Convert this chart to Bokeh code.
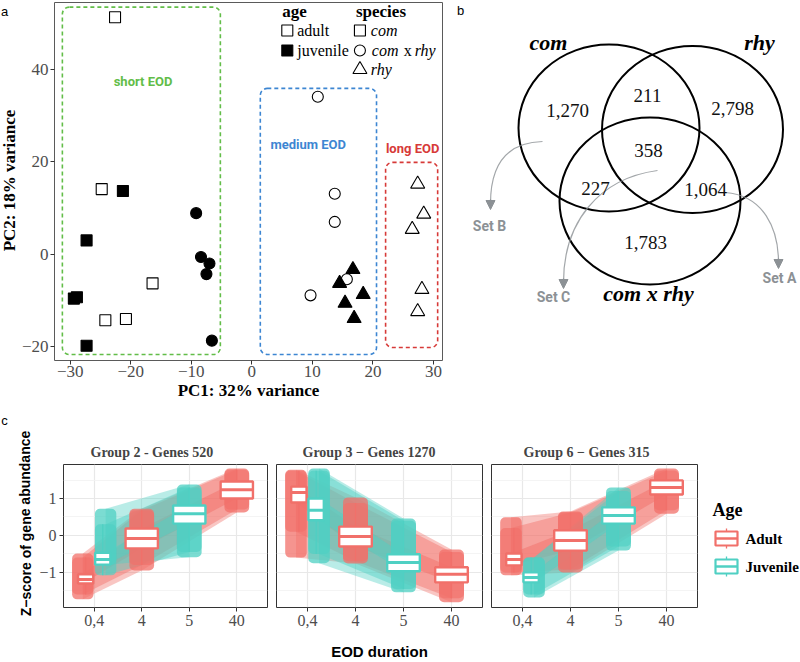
from bokeh.plotting import figure
from bokeh.layouts import row, column
from bokeh.models import Label, Range1d, FixedTicker, Arrow, NormalHead
from bokeh.embed import file_html
from bokeh.resources import INLINE

SERIF = "Liberation Serif"
SANS = "Liberation Sans"
ROBOTO = "Roboto"

# ------------------------------------------------------------------
# Panel a: PCA of samples
# ------------------------------------------------------------------
adult_com_x = [-22.6, -24.8, -16.4, -24.2, -20.8]
adult_com_y = [51.3, 14.1, -6.3, -14.3, -14.0]
juv_com_x = [-21.3, -27.3, -29.4, -28.9, -27.3]
juv_com_y = [13.7, 3.0, -9.6, -9.3, -19.8]
adult_hyb_x = [10.9, 13.7, 13.7, 15.7, 9.7]
adult_hyb_y = [34.1, 13.1, 7.0, -5.4, -8.9]
juv_hyb_x = [-9.2, -8.4, -7.0, -7.5, -6.6]
juv_hyb_y = [8.9, -0.6, -2.0, -4.3, -18.7]
adult_rhy_x = [27.4, 28.4, 26.5, 28.1, 27.4]
adult_rhy_y = [15.2, 8.7, 5.4, -7.6, -12.4]
juv_rhy_x = [16.7, 14.5, 18.4, 15.4, 16.9]
juv_rhy_y = [-3.3, -6.3, -8.7, -10.6, -13.9]

pc1_ticks = [-30, -20, -10, 0, 10, 20, 30]
pc2_ticks = [-20, 0, 20, 40]

eod_names = ["short EOD", "medium EOD", "long EOD"]
eod_left = [-31.3, 1.4, 22.1]
eod_right = [-5.2, 20.6, 30.7]
eod_top = [53.5, 35.9, 19.9]
eod_bottom = [-21.7, -21.7, -20.2]
eod_colors = ["#62bd48", "#3d86d2", "#d73a38"]

age_labels = ["adult", "juvenile"]
species_labels = ["com", "com x rhy", "rhy"]

# ------------------------------------------------------------------
# Panel b: Venn counts
# ------------------------------------------------------------------
venn_sets = ["com", "rhy", "com x rhy"]
venn_regions = ["com", "com & rhy", "rhy", "all", "com & hybrid", "rhy & hybrid", "hybrid"]
venn_counts = [1270, 211, 2798, 358, 227, 1064, 1783]
venn_set_names = ["Set B", "Set C", "Set A"]

# ------------------------------------------------------------------
# Panel c: z-scores by EOD duration (box statistics and point ranges)
# ------------------------------------------------------------------
group_titles = ["Group 2 - Genes 520", "Group 3 \u2212 Genes 1270", "Group 6 \u2212 Genes 315"]
eod_labels = ["0,4", "4", "5", "40"]
adult_eod = ["0,4", "4", "40"]
juv_eod = ["0,4", "5"]

adult_lo = [[-1.73, -0.95, 0.62], [-0.60, -0.76, -1.81], [-1.08, -1.00, 0.59]]
adult_wlo = [[-1.60, -0.80, 0.70], [0.10, -0.70, -1.70], [-1.00, -0.92, 0.68]]
adult_q1 = [[-1.30, -0.35, 1.00], [0.89, -0.30, -1.27], [-0.81, -0.41, 1.11]]
adult_med = [[-1.19, -0.08, 1.24], [1.16, -0.03, -1.05], [-0.65, -0.14, 1.30]]
adult_q3 = [[-1.05, 0.19, 1.46], [1.32, 0.24, -0.86], [-0.49, 0.14, 1.49]]
adult_whi = [[-0.60, 0.68, 1.78], [1.75, 0.88, -0.45], [0.20, 0.62, 1.76]]
adult_hi = [[-0.49, 0.72, 1.81], [1.78, 1.03, -0.38], [0.49, 0.65, 1.81]]

juv_lo = [[-0.80, -0.59], [-0.75, -1.54], [-1.68, -0.41]]
juv_wlo = [[-1.08, -0.45], [-0.50, -1.45], [-1.60, -0.30]]
juv_q1 = [[-0.79, 0.32], [0.41, -0.97], [-1.27, 0.32]]
juv_med = [[-0.65, 0.59], [0.68, -0.73], [-1.14, 0.54]]
juv_q3 = [[-0.47, 0.81], [1.00, -0.51], [-1.00, 0.76]]
juv_whi = [[0.30, 1.30], [1.75, 0.40], [-0.60, 1.20]]
juv_hi = [[0.72, 1.38], [1.81, 0.46], [-0.60, 1.30]]

RED = "#f1706a"
TEAL = "#4fd0c3"
GREY_TXT = "#4d4d4d"


def style_axis(ax, size):
    ax.axis_line_color = None
    ax.major_tick_line_color = "#333333"
    ax.major_tick_out = 4
    ax.major_tick_in = 0
    ax.minor_tick_line_color = None
    ax.major_label_text_font = SERIF
    ax.major_label_text_font_size = size
    ax.major_label_text_color = GREY_TXT


def label(p, x, y, text, size, font=SERIF, style="normal", color="black",
          align="center", angle=0.0):
    p.add_layout(Label(x=x, y=y, text=text, text_font=font, text_font_size=size,
                       text_font_style=style, text_color=color, text_align=align,
                       text_baseline="middle", angle=angle))


def blank(width, height, x0, x1, y0, y1):
    """A figure with no axes whose frame fills it, in page-pixel coordinates."""
    p = figure(width=width, height=height, x_range=Range1d(x0, x1), y_range=Range1d(y1, y0),
               output_backend="svg", toolbar_location=None, min_border=0,
               x_axis_location=None, y_axis_location=None, frame_align=False)
    p.grid.visible = False
    p.outline_line_color = None
    return p


# ---------------- panel a ----------------
AX0, AX1, AY0, AY1 = -32.6, 31.5, -23.0, 54.5
FA_LEFT = 52
fa_m = blank(18, 405, 0, 18, 0, 405)
label(fa_m, 4, 11, "a", "13px", font=SANS)
label(fa_m, 9, 180, "PC2: 18% variance", "17px", style="bold", angle=1.5708)

fa = figure(width=427, height=405, x_range=Range1d(AX0, AX1), y_range=Range1d(AY0, AY1),
            output_backend="svg", toolbar_location=None, frame_align=False,
            min_border_left=FA_LEFT - 18, min_border_right=3, min_border_top=2,
            min_border_bottom=45)
fa.grid.visible = False
fa.outline_line_color = "#5a5a5a"
fa.xaxis.ticker = FixedTicker(ticks=pc1_ticks)
fa.yaxis.ticker = FixedTicker(ticks=pc2_ticks)
fa.xaxis.major_label_overrides = {t: str(t).replace("-", "\u2212") for t in pc1_ticks}
fa.yaxis.major_label_overrides = {t: str(t).replace("-", "\u2212") for t in pc2_ticks}
for ax in (fa.xaxis[0], fa.yaxis[0]):
    style_axis(ax, "17px")
fa.xaxis.major_label_standoff = 1
fa.yaxis.major_label_standoff = 2
fa.xaxis.axis_label = "PC1: 32% variance"
fa.xaxis.axis_label_text_font = SERIF
fa.xaxis.axis_label_text_font_size = "17px"
fa.xaxis.axis_label_text_font_style = "bold"
fa.xaxis.axis_label_text_color = "black"
fa.xaxis.axis_label_standoff = 1


def a_pt(px, py):
    """Page pixel -> panel a data coordinates."""
    return (AX0 + (px - FA_LEFT) * (AX1 - AX0) / 390.0,
            AY0 + (360 - py) * (AY1 - AY0) / 358.0)


fa.quad(left=eod_left, right=eod_right, top=eod_top, bottom=eod_bottom,
        fill_alpha=0, line_color=eod_colors, line_dash="4 3", line_width=1.6,
        border_radius=7)
eod_label_pos = [(141, 81), (307, 144), (412, 148)]
for name, col, (px, py) in zip(eod_names, eod_colors, eod_label_pos):
    lx, ly = a_pt(px, py)
    label(fa, lx, ly, name, "13px", font=ROBOTO, style="bold", color=col)

mk = dict(line_color="black", line_width=1.1)
fa.scatter(adult_com_x, adult_com_y, marker="square", size=11, fill_alpha=0, **mk)
fa.scatter(juv_com_x, juv_com_y, marker="square", size=11, fill_color="black", **mk)
fa.scatter(adult_hyb_x, adult_hyb_y, marker="circle", size=11, fill_alpha=0, **mk)
fa.scatter(juv_hyb_x, juv_hyb_y, marker="circle", size=11, fill_color="black", **mk)
fa.scatter(adult_rhy_x, adult_rhy_y, marker="triangle", size=14, fill_alpha=0, **mk)
fa.scatter(juv_rhy_x, juv_rhy_y, marker="triangle", size=14, fill_color="black", **mk)

# legend block (top right, inside the frame)
tx, ty = a_pt(281, 11)
label(fa, tx, ty, "age", "17px", style="bold", align="left")
tx, ty = a_pt(355, 11)
label(fa, tx, ty, "species", "17px", style="bold", align="left")
key_rows = [30, 50, 69]
for i, lab in enumerate(age_labels):
    kx, ky = a_pt(286, key_rows[i])
    fa.scatter([kx], [ky], marker="square", size=11,
               fill_color="black" if i == 1 else None, **mk)
    lx, ly = a_pt(296, key_rows[i])
    label(fa, lx, ly, lab, "16px", align="left")
sp_markers = ["square", "circle", "triangle"]
sp_sizes = [11, 11, 14]
for i, lab in enumerate(species_labels):
    kx, ky = a_pt(359, key_rows[i])
    fa.scatter([kx], [ky], marker=sp_markers[i], size=sp_sizes[i], fill_alpha=0, **mk)
    if " x " in lab:
        a_, b_ = lab.split(" x ")
        for txt, px, st in ((a_, 371, "italic"), ("x", 403, "normal"), (b_, 414, "italic")):
            lx, ly = a_pt(px, key_rows[i])
            label(fa, lx, ly, txt, "16px", style=st, align="left")
    else:
        lx, ly = a_pt(370, key_rows[i])
        label(fa, lx, ly, lab, "16px", style="italic", align="left")

# ---------------- panel b ----------------
fb = blank(355, 405, 445, 800, 0, 405)
venn_cx = [608.5, 692.0, 649.5]
venn_cy = [127.5, 129.0, 200.5]
fb.ellipse(x=venn_cx, y=venn_cy, width=181, height=167, fill_alpha=0,
           line_color="black", line_width=2)
count_pos = [(567, 110), (647, 95), (732, 108), (648, 150), (595, 188), (705, 189), (645, 242)]
for n, (px, py) in zip(venn_counts, count_pos):
    label(fb, px, py, f"{n:,}", "19px", color="#111111")
set_title_pos = [(548, 42), (759, 42), (648, 293)]
for name, (px, py) in zip(venn_sets, set_title_pos):
    label(fb, px, py, name, "22px", style="bold italic")

ARROW = "#8c9195"
fb.bezier(x0=[542, 657, 725], y0=[141, 170, 192],
          x1=[490, 563, 778], y1=[203, 282, 262],
          cx0=[505, 598, 763], cy0=[142, 178, 195],
          cx1=[490, 563, 778], cy1=[165, 222, 228],
          line_color=ARROW, line_width=1.2, line_alpha=0.8)
for xs, ys, xe, ye in ((490, 199, 490, 209), (563, 278, 563, 288), (778, 258, 778, 268)):
    fb.add_layout(Arrow(x_start=xs, y_start=ys, x_end=xe, y_end=ye, line_color=ARROW,
                        line_width=1.2,
                        end=NormalHead(size=9, fill_color=ARROW, line_color=ARROW)))
set_pos = [(489, 225), (553, 296), (779, 277)]
for name, (px, py) in zip(venn_set_names, set_pos):
    label(fb, px, py, name, "14px", font=ROBOTO, style="bold", color="#8c9195")
label(fb, 460, 10, "b", "13px", font=SANS)

# ---------------- panel c ----------------
CX0, CX1, CY0, CY1 = 0.354, 4.646, -1.95, 1.92
FRAME_TOP, FRAME_BOT = 464, 607
DODGE_BOX = 0.18
DODGE_CLOUD = 0.24

cm = blank(36, 257, 0, 36, 405, 662)
label(cm, 4, 420, "c", "13px", font=SANS)
label(cm, 25, 523, "Z\u2212score of gene abundance", "14px", font=SANS, style="bold",
      angle=1.5708)


def positions(labels, shift):
    out = []
    for lab in labels:
        base = eod_labels.index(lab) + 1
        out.append(base + (shift if lab == "0,4" else 0.0))
    return out


def spans(xs, labels, narrow, wide):
    w = [narrow if lab == "0,4" else wide for lab in labels]
    return [x - ww / 2 for x, ww in zip(xs, w)], [x + ww / 2 for x, ww in zip(xs, w)]


def draw_bands(p, xs, lo, hi, color, alpha):
    px, py = [], []
    for i in range(len(xs) - 1):
        px.append([xs[i], xs[i + 1], xs[i + 1], xs[i]])
        py.append([lo[i], lo[i + 1], hi[i + 1], hi[i]])
    p.patches(px, py, fill_color=color, fill_alpha=alpha, line_alpha=0)


def draw_clouds(p, labels, xs, lo, wlo, whi, hi, color):
    left, right = spans(xs, labels, 0.45, 0.52)
    p.quad(left=left, right=right, bottom=lo, top=hi, fill_color=color, fill_alpha=0.75,
           line_alpha=0, border_radius=5)
    p.quad(left=left, right=right, bottom=wlo, top=whi, fill_color=color, fill_alpha=0.65,
           line_alpha=0, border_radius=5)


def draw_boxes(p, labels, xs, wlo, q1, med, q3, whi, color):
    left, right = spans(xs, labels, 0.32, 0.68)
    p.segment(x0=xs, y0=wlo, x1=xs, y1=q1, line_color=color, line_width=1.3)
    p.segment(x0=xs, y0=q3, x1=xs, y1=whi, line_color=color, line_width=1.3)
    p.quad(left=left, right=right, bottom=q1, top=q3, fill_color="white",
           line_color=color, line_width=2.4)
    p.segment(x0=left, y0=med, x1=right, y1=med, line_color=color, line_width=3)


def facet(g, fig_w, border_left, show_y, title_offset):
    p = figure(width=fig_w, height=257, x_range=Range1d(CX0, CX1), y_range=Range1d(CY0, CY1),
               output_backend="svg", toolbar_location=None, frame_align=False,
               min_border_left=border_left, min_border_right=3,
               min_border_top=FRAME_TOP - 405, min_border_bottom=662 - FRAME_BOT,
               title=group_titles[g])
    p.title.align = "left"
    p.title.offset = title_offset
    p.title.text_font = SERIF
    p.title.text_font_size = "14px"
    p.title.text_font_style = "bold"
    p.title.standoff = 10
    p.outline_line_color = "#333333"
    p.outline_line_width = 1
    p.xaxis.ticker = FixedTicker(ticks=[1, 2, 3, 4])
    p.xaxis.major_label_overrides = {i + 1: lab for i, lab in enumerate(eod_labels)}
    p.yaxis.ticker = FixedTicker(ticks=[-1, 0, 1], minor_ticks=[-1.5, -0.5, 0.5, 1.5])
    p.yaxis.major_label_overrides = {-1: "\u22121", 0: "0", 1: "1"}
    style_axis(p.xaxis[0], "16px")
    style_axis(p.yaxis[0], "16px")
    p.xaxis.major_label_standoff = 3
    p.yaxis.major_label_standoff = 3
    if not show_y:
        p.yaxis.visible = False
    p.xgrid.ticker = FixedTicker(ticks=[1, 2, 3, 4])
    p.ygrid.ticker = FixedTicker(ticks=[-1, 0, 1], minor_ticks=[-1.5, -0.5, 0.5, 1.5])
    p.grid.grid_line_color = "#e8e8e8"
    p.grid.grid_line_width = 1.2
    p.ygrid.minor_grid_line_color = "#f1f1f1"
    p.ygrid.minor_grid_line_width = 0.8

    ax_cloud = positions(adult_eod, -DODGE_CLOUD)
    jx_cloud = positions(juv_eod, DODGE_CLOUD)
    ax_box = positions(adult_eod, -DODGE_BOX)
    jx_box = positions(juv_eod, DODGE_BOX)

    # gene trajectories, drawn as nested density bands
    draw_bands(p, ax_cloud, adult_lo[g], adult_hi[g], RED, 0.4)
    draw_bands(p, ax_cloud, adult_wlo[g], adult_whi[g], RED, 0.45)
    draw_bands(p, ax_cloud, adult_q1[g], adult_q3[g], RED, 0.5)
    draw_bands(p, jx_cloud, juv_lo[g], juv_hi[g], TEAL, 0.4)
    draw_bands(p, jx_cloud, juv_wlo[g], juv_whi[g], TEAL, 0.45)
    draw_bands(p, jx_cloud, juv_q1[g], juv_q3[g], TEAL, 0.5)

    draw_clouds(p, adult_eod, ax_cloud, adult_lo[g], adult_wlo[g], adult_whi[g], adult_hi[g], RED)
    draw_clouds(p, juv_eod, jx_cloud, juv_lo[g], juv_wlo[g], juv_whi[g], juv_hi[g], TEAL)
    draw_boxes(p, adult_eod, ax_box, adult_wlo[g], adult_q1[g], adult_med[g], adult_q3[g],
               adult_whi[g], RED)
    draw_boxes(p, juv_eod, jx_box, juv_wlo[g], juv_q1[g], juv_med[g], juv_q3[g],
               juv_whi[g], TEAL)
    return p


c1 = facet(0, 234, 25, True, 27)
c2 = facet(1, 215, 6, False, 26)
c3 = facet(2, 215, 6, False, 32)
c2.xaxis.axis_label = "EOD duration"
c2.xaxis.axis_label_text_font = SANS
c2.xaxis.axis_label_text_font_size = "15px"
c2.xaxis.axis_label_text_font_style = "bold"
c2.xaxis.axis_label_text_color = "black"
c2.xaxis.axis_label_standoff = 14

# legend for panel c
cl = blank(100, 257, 700, 800, 405, 662)
label(cl, 712, 509, "Age", "18px", style="bold", align="left")
key_y = [538, 566]
key_cols = [RED, TEAL]
for lab, ky, col in zip(["Adult", "Juvenile"], key_y, key_cols):
    cl.segment(x0=[726, 726], y0=[ky - 10, ky + 7], x1=[726, 726], y1=[ky - 7, ky + 10],
               line_color=col, line_width=1.3)
    cl.quad(left=[715], right=[737], top=[ky - 7], bottom=[ky + 7], fill_color="white",
            line_color=col, line_width=2.2)
    cl.segment(x0=[715], y0=[ky], x1=[737], y1=[ky], line_color=col, line_width=2.4)
    label(cl, 745, ky, lab, "15px", style="bold", align="left")

layout = column(row(fa_m, fa, fb), row(cm, c1, c2, c3, cl))

with open("out.html", "w") as f:
    f.write(file_html(layout, INLINE))
